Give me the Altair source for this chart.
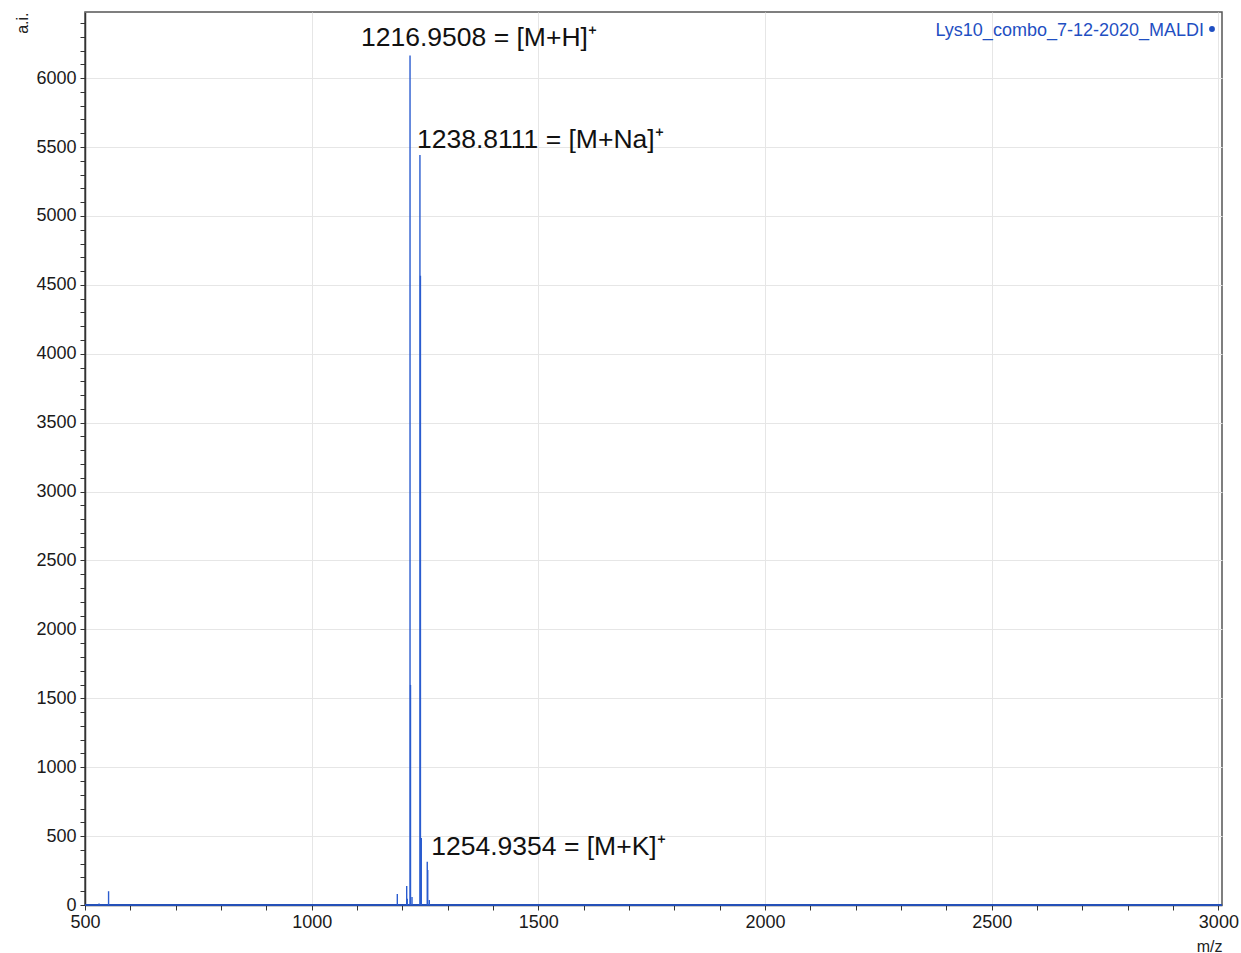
import altair as alt
import pandas as pd

# Centroided MALDI peak list (m/z, intensity in a.i.)
peak_mz = [531.0, 552.0, 1188.9, 1209.6, 1210.8, 1216.9508, 1218.0, 1221.3,
           1238.8111, 1239.9, 1241.8, 1254.9354, 1256.0, 1259.5]
peak_int = [10, 100, 80, 138, 45, 6165, 1597, 58,
            5443, 4566, 486, 314, 254, 36]

# Annotated ions
ann_mz = [1216.9508, 1238.8111, 1254.9354]
ann_int = [6165, 5443, 314]
ann_text = ["1216.9508 = [M+H]⁺", "1238.8111 = [M+Na]⁺", "1254.9354 = [M+K]⁺"]
ann_offset = [(-49, -9), (-3, -7), (4, -7)]  # label nudge in pixels

sample_name = "Lys10_combo_7-12-2020_MALDI"

X_DOMAIN = [500, 3008]
Y_DOMAIN = [0, 6480]
x_ticks = list(range(500, 3001, 100))
y_ticks = list(range(0, 6401, 100))

BLUE = "#2a5ccf"
FONT = "Liberation Sans"
W, H = 1137, 893

peaks = pd.DataFrame({"mz": peak_mz, "intensity": peak_int})

x_scale = alt.Scale(domain=X_DOMAIN, nice=False, zero=False)
y_scale = alt.Scale(domain=Y_DOMAIN, nice=False)

major = "datum.value % 500 === 0"

x_axis = alt.Axis(
    values=x_ticks, tickCount=len(x_ticks),
    labelExpr=f"{major} ? datum.label : ''",
    format="d",
    title="m/z",
    titleFont=FONT, titleFontSize=16, titleFontWeight="normal", titleColor="#222",
    titleAnchor="end", titleAlign="right", titleX=W, titleY=46,
    titleBaseline="alphabetic",
    labelFont=FONT, labelFontSize=18, labelColor="#1a1a1a", labelPadding=3,
    labelOverlap=False, labelFlush=False,
    tickSize=5, tickColor="#333", tickWidth=1,
    domainColor="#333", domainWidth=1.5,
    grid=True, gridColor="#e6e6e6", gridWidth=1,
    gridOpacity={"condition": {"test": major, "value": 1}, "value": 0},
)

y_axis = alt.Axis(
    values=y_ticks, tickCount=len(y_ticks),
    labelExpr=f"{major} ? datum.label : ''",
    format="d",
    title="a.i.",
    titleFont=FONT, titleFontSize=16, titleFontWeight="normal", titleColor="#222",
    titleAngle=270, titleAlign="right", titleBaseline="alphabetic",
    titleX=-58, titleY=0,
    labelFont=FONT, labelFontSize=18, labelColor="#1a1a1a", labelPadding=4,
    labelOverlap=False,
    tickSize=5, tickColor="#333", tickWidth=1,
    domainColor="#333", domainWidth=1.5,
    grid=True, gridColor="#e6e6e6", gridWidth=1,
    gridOpacity={"condition": {"test": major, "value": 1}, "value": 0},
)

# Spectrum sticks
sticks = alt.Chart(peaks).mark_rule(color=BLUE, strokeWidth=1.4).encode(
    x=alt.X("mz:Q", scale=x_scale, axis=x_axis),
    y=alt.Y("intensity:Q", scale=y_scale, axis=y_axis),
    y2=alt.datum(0),
)

# Baseline trace along zero intensity
baseline = alt.Chart(peaks).mark_rule(color="#2450b8", strokeWidth=2).encode(
    y=alt.datum(0, scale=y_scale),
)

layers = [baseline, sticks]

for mz, inten, text, (dx, dy) in zip(ann_mz, ann_int, ann_text, ann_offset):
    df = pd.DataFrame({"mz": [mz], "intensity": [inten], "label": [text]})
    layers.append(
        alt.Chart(df).mark_text(
            font=FONT, fontSize=26.5, color="#111", align="left",
            baseline="alphabetic", dx=dx, dy=dy,
        ).encode(
            x=alt.X("mz:Q", scale=x_scale),
            y=alt.Y("intensity:Q", scale=y_scale),
            text="label:N",
        )
    )

# Sample name tag in the upper-right corner
name_df = pd.DataFrame({"name": [sample_name]})
name_text = alt.Chart(name_df).mark_text(
    font=FONT, fontSize=18, color="#1f4fc2", align="right", baseline="alphabetic",
).encode(x=alt.value(W - 18), y=alt.value(24), text="name:N")
name_dot = alt.Chart(name_df).mark_point(
    filled=True, color="#1f4fc2", size=34, opacity=1,
).encode(x=alt.value(W - 10), y=alt.value(17))
layers += [name_text, name_dot]

chart = alt.layer(*layers).properties(
    width=W,
    height=H,
    autosize=alt.AutoSizeParams(type="none"),
    padding={"left": 85, "top": 12, "right": 19, "bottom": 48},
    background="white",
).configure_view(
    stroke="#555", strokeWidth=1.5,
)

chart.save("out.html", embed_options={"renderer": "svg", "actions": False})
